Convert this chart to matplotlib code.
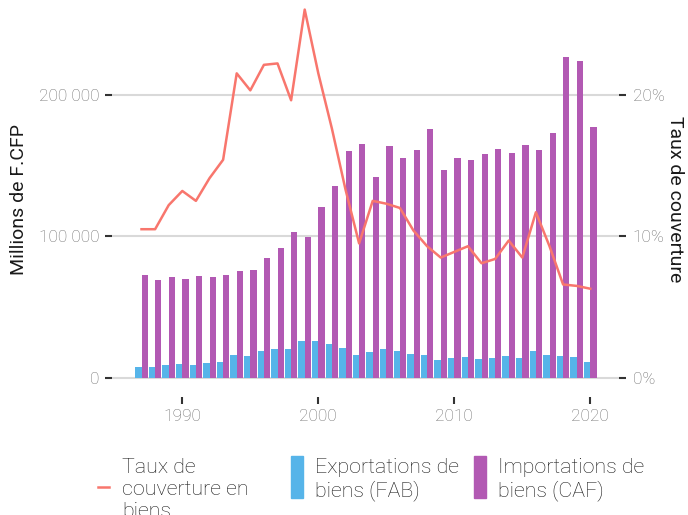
import matplotlib
matplotlib.use('Agg')
import matplotlib.pyplot as plt
from matplotlib.lines import Line2D
from matplotlib.patches import Rectangle
from matplotlib.ticker import FuncFormatter

plt.rcParams['font.family'] = ['Roboto', 'DejaVu Sans']
plt.rcParams['font.weight'] = 'light'

years = list(range(1987, 2021))
exports = [7500, 7500, 8900, 9700, 8900, 10400, 11100, 16000, 15300, 18800,
           20200, 20200, 25900, 25900, 23800, 20900, 16000, 18100, 20200, 18800,
           16700, 16000, 12500, 13900, 14600, 13200, 13900, 15300, 13900, 18800,
           16000, 15300, 14600, 11100]
imports = [72500, 68900, 71100, 69700, 71800, 71100, 72500, 75300, 76000, 84500,
           91500, 102800, 99300, 120500, 135300, 160000, 164900, 141700, 163500, 155100,
           160700, 175500, 146600, 155100, 153700, 157900, 161400, 158600, 164200, 160700,
           172700, 226400, 223500, 176900]
coverage = [10.5, 10.5, 12.2, 13.2, 12.5, 14.1, 15.4, 21.5, 20.3, 22.1,
            22.2, 19.6, 26.0, 21.5, 17.6, 13.3, 9.5, 12.5, 12.3, 12.0,
            10.4, 9.3, 8.5, 8.9, 9.3, 8.1, 8.4, 9.7, 8.5, 11.7,
            9.3, 6.6, 6.5, 6.3]

c_exp = '#56B4E9'
c_imp = '#B259B3'
c_line = '#F8766D'
grey = '#6f6f6f'

W, H = 688, 515
fig = plt.figure(figsize=(W / 100, H / 100), dpi=100)
ax = fig.add_axes([112 / W, 1 - 397 / H, (619 - 112) / W, (397 - 2) / H])

bw = 0.46
ax.bar([y - bw / 2 for y in years], exports, width=bw, color=c_exp, zorder=2)
ax.bar([y + bw / 2 for y in years], imports, width=bw, color=c_imp, zorder=2)

ax.set_xlim(1984.83, 2022.11)
ax.set_ylim(-13409, 265349)
ax.set_yticks([0, 100000, 200000])
ax.yaxis.set_major_formatter(FuncFormatter(lambda v, p: f'{int(v):,}'.replace(',', ' ')))
ax.set_xticks([1990, 2000, 2010, 2020])
ax.grid(axis='y', color='#D9D9D9', lw=1.5, zorder=0)
ax.set_axisbelow(True)
for s in ax.spines.values():
    s.set_visible(False)
ax.tick_params(axis='both', colors='#333333', labelcolor=grey, labelsize=12.5,
               length=5, width=1.5)
ax.tick_params(axis='y', pad=4)
ax.tick_params(axis='x', pad=3.5)
ax.set_ylabel('Millions de F.CFP', fontsize=14, color='#1a1a1a', labelpad=8)

ax2 = ax.twinx()
ax2.plot(years, coverage, color=c_line, lw=1.8, zorder=3)
ax2.set_ylim(-1.3409, 26.5349)
ax2.set_yticks([0, 10, 20])
ax2.yaxis.set_major_formatter(FuncFormatter(lambda v, p: f'{int(v)}%'))
for s in ax2.spines.values():
    s.set_visible(False)
ax2.tick_params(axis='y', colors='#333333', labelcolor=grey, labelsize=12.5,
                length=5, width=1.5, pad=5)
ax2.set_ylabel('Taux de couverture', fontsize=14, color='#1a1a1a',
               rotation=-90, labelpad=14)

# legend built by hand
def fx(px):
    return px / W

def fy(py):
    return 1 - py / H

fig.add_artist(Line2D([fx(98), fx(109)], [fy(487), fy(487)], color=c_line, lw=1.8,
                      transform=fig.transFigure))
fig.add_artist(Rectangle((fx(291), fy(498)), 12 / W, 42 / H, color=c_exp,
                         transform=fig.transFigure))
fig.add_artist(Rectangle((fx(474), fy(498)), 12 / W, 42 / H, color=c_imp,
                         transform=fig.transFigure))
leg_kw = dict(fontsize=15.4, color='#1a1a1a', va='top', ha='left', linespacing=1.2)
fig.text(fx(122), fy(458), 'Taux de\ncouverture en\nbiens', **leg_kw)
fig.text(fx(315), fy(458), 'Exportations de\nbiens (FAB)', **leg_kw)
fig.text(fx(498), fy(458), 'Importations de\nbiens (CAF)', **leg_kw)

fig.savefig('out.png', dpi=100)
